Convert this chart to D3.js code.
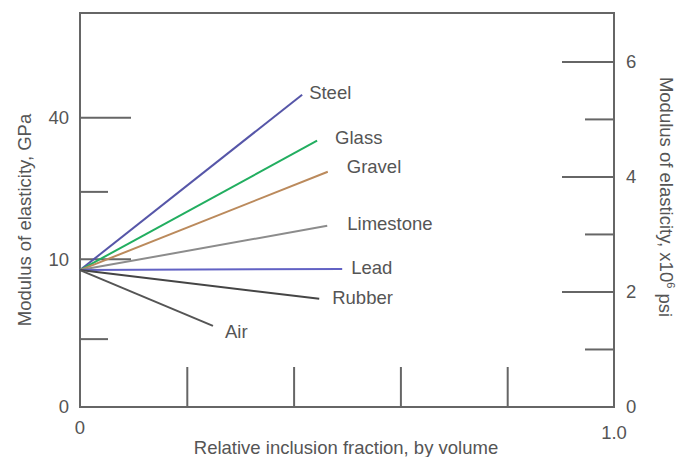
<!DOCTYPE html>
<html>
<head>
<meta charset="utf-8">
<script src="https://cdn.jsdelivr.net/npm/d3@7"></script>
<style>
  body { margin: 0; background: #fff; }
  text { font-family: "Liberation Sans", Arial, sans-serif; fill: #555; }
</style>
</head>
<body>
<div id="chart"></div>
<script>
// Materials and where each line ends (x = inclusion fraction, y = modulus in 10^6 psi)
const materials = ["Steel", "Glass", "Gravel", "Limestone", "Lead", "Rubber", "Air"];
const startModulus = 2.38;
const endFraction = [0.416, 0.444, 0.464, 0.463, 0.491, 0.448, 0.249];
const endModulus = [5.43, 4.63, 4.09, 3.15, 2.40, 1.88, 1.41];
const colors = ["#5656a8", "#22ae60", "#bb8a5c", "#8c8c8c", "#6262c4", "#454545", "#555555"];
const labelOffsets = [[7, -2], [18, -3], [19, -5], [20, -2], [9, -1], [13, -1], [12, 6]];

// Axis ticks
const xTicks = [0, 0.2, 0.4, 0.6, 0.8, 1.0];
const xTickLabels = ["0", "", "", "", "", "1.0"];
const psiTicks = [0, 1, 2, 3, 4, 5, 6];
const psiTickLabels = ["0", "", "2", "", "4", "", "6"];
const gpaTicks = [0, 5, 10, 25, 40];
const gpaTickLabels = ["0", "", "10", "", "40"];
// where the original drawing places the GPa ticks on the psi axis
const gpaOnPsi = [0, 1.18, 2.57, 3.74, 5.03];

const margin = { top: 13, right: 67, bottom: 50, left: 80 };
const width = 681 - margin.left - margin.right;
const height = 457 - margin.top - margin.bottom;

const svg = d3.select("#chart").append("svg")
  .attr("width", 681)
  .attr("height", 457)
  .append("g")
  .attr("transform", `translate(${margin.left}, ${margin.top})`);

const x = d3.scaleLinear().domain([0, 1]).range([0, width]);
const yPsi = d3.scaleLinear().domain([0, 6.85]).range([height, 0]);
const yGpa = d3.scaleLinear().domain(gpaTicks).range(gpaOnPsi.map(v => yPsi(v)));

const axisColor = "#666";

// frame
svg.append("rect")
  .attr("x", 0).attr("y", 0)
  .attr("width", width).attr("height", height)
  .attr("fill", "none")
  .attr("stroke", axisColor)
  .attr("stroke-width", 2);

// inward ticks: labelled ones are long, the others short
function styleAxis(g) {
  g.select(".domain").remove();
  g.selectAll(".tick line").attr("stroke", axisColor).attr("stroke-width", 2);
  g.selectAll(".tick text").attr("font-size", 18.5).attr("fill", "#555");
}

const xAxis = d3.axisBottom(x)
  .tickValues(xTicks.slice(1, -1))
  .tickSizeInner(-40)
  .tickFormat("");
svg.append("g")
  .attr("transform", `translate(0, ${height})`)
  .call(xAxis)
  .call(styleAxis);

svg.selectAll(".x-label")
  .data(xTicks.filter((d, i) => xTickLabels[i] !== ""))
  .enter().append("text")
  .attr("class", "x-label")
  .attr("x", d => x(d))
  .attr("y", d => d === 0 ? height + 27 : height + 32)
  .attr("text-anchor", "middle")
  .attr("font-size", 18.5)
  .text(d => xTickLabels[xTicks.indexOf(d)]);

const leftAxis = d3.axisLeft(yGpa)
  .tickValues(gpaTicks)
  .tickSize(0)
  .tickPadding(11)
  .tickFormat((d, i) => gpaTickLabels[i]);
svg.append("g").call(leftAxis).call(styleAxis);
svg.selectAll(".gpa-tick")
  .data(gpaTicks.slice(1))
  .enter().append("line")
  .attr("class", "gpa-tick")
  .attr("x1", 0)
  .attr("x2", (d, i) => gpaTickLabels[i + 1] ? 51 : 28)
  .attr("y1", d => yGpa(d))
  .attr("y2", d => yGpa(d))
  .attr("stroke", axisColor)
  .attr("stroke-width", 2);

const rightAxis = d3.axisRight(yPsi)
  .tickValues(psiTicks)
  .tickSize(0)
  .tickPadding(12)
  .tickFormat((d, i) => psiTickLabels[i]);
svg.append("g")
  .attr("transform", `translate(${width}, 0)`)
  .call(rightAxis)
  .call(styleAxis);
svg.selectAll(".psi-tick")
  .data(psiTicks.slice(1))
  .enter().append("line")
  .attr("class", "psi-tick")
  .attr("x1", width)
  .attr("x2", (d, i) => psiTickLabels[i + 1] ? width - 52 : width - 29)
  .attr("y1", d => yPsi(d))
  .attr("y2", d => yPsi(d))
  .attr("stroke", axisColor)
  .attr("stroke-width", 2);

// material lines, all fanning out of the same starting point
const lines = materials.map((name, i) => ({
  name: name,
  color: colors[i],
  offset: labelOffsets[i],
  points: [[0, startModulus], [endFraction[i], endModulus[i]]]
}));

const line = d3.line().x(d => x(d[0])).y(d => yPsi(d[1]));

svg.selectAll(".material")
  .data(lines)
  .enter().append("path")
  .attr("class", "material")
  .attr("d", d => line(d.points))
  .attr("fill", "none")
  .attr("stroke", d => d.color)
  .attr("stroke-width", 2);

svg.selectAll(".material-label")
  .data(lines)
  .enter().append("text")
  .attr("class", "material-label")
  .attr("x", d => x(d.points[1][0]) + d.offset[0])
  .attr("y", d => yPsi(d.points[1][1]) + d.offset[1])
  .attr("dy", "0.35em")
  .attr("font-size", 18.5)
  .text(d => d.name);

// axis titles
svg.append("text")
  .attr("transform", `translate(${-55}, ${220 - margin.top}) rotate(-90)`)
  .attr("text-anchor", "middle")
  .attr("dy", "0.35em")
  .attr("font-size", 18.5)
  .text("Modulus of elasticity, GPa");

const rightTitle = svg.append("text")
  .attr("transform", `translate(${width + 52}, ${197 - margin.top}) rotate(90)`)
  .attr("text-anchor", "middle")
  .attr("dy", "0.35em")
  .attr("font-size", 18.5);
rightTitle.append("tspan").text("Modulus of elasticity, x10");
rightTitle.append("tspan").attr("font-size", 11).attr("dy", "-0.7em").text("6");
rightTitle.append("tspan").attr("dy", "0.45em").text(" psi");

svg.append("text")
  .attr("x", 346 - margin.left)
  .attr("y", height + 47)
  .attr("text-anchor", "middle")
  .attr("font-size", 18.5)
  .text("Relative inclusion fraction, by volume");
</script>
</body>
</html>
